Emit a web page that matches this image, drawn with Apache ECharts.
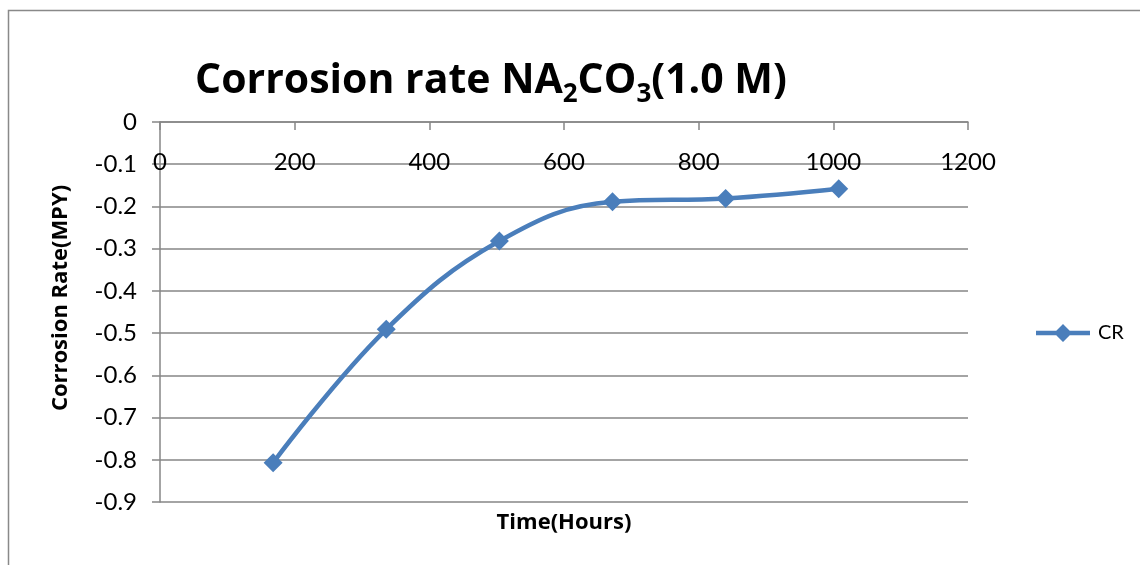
<!DOCTYPE html>
<html><head><meta charset="utf-8">
<script src="https://cdn.jsdelivr.net/npm/echarts@6/dist/echarts.min.js"></script>
<style>html,body{margin:0;padding:0;background:#fff}#c{width:1140px;height:565px}</style>
</head><body><div id="c"></div>
<script>
const hours = [168, 336, 504, 672, 840, 1008];
const cr = [-0.807, -0.491, -0.282, -0.189, -0.181, -0.158];
const seriesName = 'CR';
const xTicks = [0, 200, 400, 600, 800, 1000, 1200];

const FONT = 'Lato, "Open Sans", sans-serif';
const BFONT = '"Open Sans", Lato, sans-serif';
const chart = echarts.init(document.getElementById('c'));
chart.setOption({
  animation: false,
  backgroundColor: '#fff',
  graphic: [{
    type: 'rect', shape: {x: 8.5, y: 10.5, width: 1200, height: 600},
    style: {fill: 'none', stroke: '#898989', lineWidth: 1.5}, silent: true
  }],
  title: {
    text: '{t|Corrosion rate NA}{s|2}{t|CO}{s|3}{t|(1.0 M)}',
    left: 486, top: 50, textAlign: 'center',
    textStyle: {
      rich: {
        t: {fontFamily: BFONT, fontWeight: 'bold', fontSize: 41, color: '#000'},
        s: {fontFamily: BFONT, fontWeight: 'bold', fontSize: 26, color: '#000', padding: [27, 0, 0, 0]}
      }
    }
  },
  legend: {
    left: 1036, top: 323, padding: 0, itemWidth: 54, itemHeight: 18, itemGap: 8,
    textStyle: {fontFamily: FONT, fontSize: 20, color: '#000', padding: [0, 0, 0, 3]},
    data: [{
      name: seriesName,
      icon: 'path://M0,6.75L54,6.75L54,11.25L0,11.25Z M27,0L36,9L27,18L18,9Z'
    }]
  },
  grid: {left: 160, right: 172, top: 122, bottom: 63, outerBoundsMode: 'none', containLabel: false},
  xAxis: [{
    type: 'value', min: 0, max: 1200, interval: 200, position: 'bottom', offset: -380,
    axisLine: {onZero: false, lineStyle: {color: '#868686', width: 1.5}},
    axisTick: {show: true, inside: false, length: 8, lineStyle: {color: '#868686', width: 1.5}},
    axisLabel: {margin: 28, fontFamily: FONT, fontSize: 24, color: '#000',
      formatter: v => xTicks.includes(v) ? String(v) : ''},
    splitLine: {show: false}
  }, {
    type: 'value', min: 0, max: 1200, interval: 200, position: 'bottom',
    name: 'Time(Hours)', nameLocation: 'middle', nameGap: 10,
    nameTextStyle: {fontFamily: BFONT, fontWeight: 'bold', fontSize: 22, color: '#000'},
    axisLine: {show: false}, axisTick: {show: false}, axisLabel: {show: false}, splitLine: {show: false}
  }],
  yAxis: {
    type: 'value', min: -0.9, max: 0, interval: 0.1,
    name: 'Corrosion Rate(MPY)', nameLocation: 'middle', nameGap: 88, nameRotate: 90,
    nameTextStyle: {fontFamily: BFONT, fontWeight: 'bold', fontSize: 22, color: '#000', padding: [0, 0, 0, 28]},
    axisLine: {show: true, onZero: false, lineStyle: {color: '#868686', width: 1.5}},
    axisTick: {show: true, inside: false, length: 8, lineStyle: {color: '#868686', width: 1.5}},
    axisLabel: {margin: 23, fontFamily: FONT, fontSize: 24, color: '#000',
      formatter: v => (Math.abs(v) < 1e-9 ? '0' : (Math.round(v * 10) / 10).toString())},
    splitLine: {show: true, lineStyle: {color: '#868686', width: 1.5}}
  },
  series: [{
    name: seriesName, type: 'line', smooth: 0.4, xAxisIndex: 0,
    data: hours.map((h, i) => [h, cr[i]]),
    symbol: 'diamond', symbolSize: 19,
    lineStyle: {color: '#4A7EBB', width: 4.5},
    itemStyle: {color: '#4A7EBB'}
  }]
});
</script></body></html>
